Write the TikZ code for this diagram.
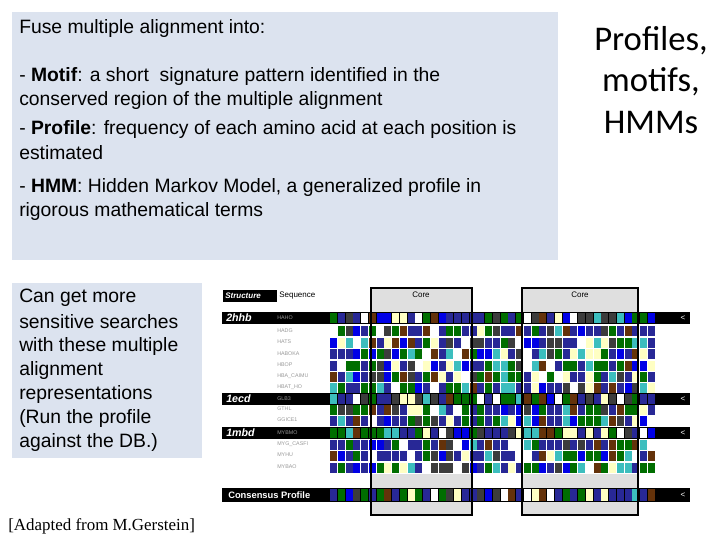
\documentclass[tikz,border=0pt]{standalone}
\usepackage{fontspec}
\setmainfont{Liberation Sans}
\newfontfamily\titlefont{Carlito}
\newfontfamily\seriffont{Liberation Serif}
\definecolor{panel}{RGB}{220,227,239}
\definecolor{c1}{RGB}{0,110,0}
\definecolor{c2}{RGB}{40,40,150}
\definecolor{c3}{RGB}{255,255,255}
\definecolor{c4}{RGB}{255,255,195}
\definecolor{c5}{RGB}{60,190,190}
\definecolor{c6}{RGB}{100,50,10}
\definecolor{c7}{RGB}{60,60,60}
\definecolor{c8}{RGB}{0,0,230}
\definecolor{c9}{RGB}{0,110,0}
\definecolor{c10}{RGB}{40,40,150}
\definecolor{c11}{RGB}{40,40,150}
\tikzset{
  bodytext/.style={anchor=west, font=\fontsize{14.5}{17}\selectfont, align=left, inner sep=0pt},
  band/.style={fill=black, draw=none},
  seqname/.style={anchor=west, font=\fontsize{4}{4}\selectfont, text=gray!80, inner sep=0pt},
  pdbname/.style={anchor=west, font=\fontsize{8}{8}\selectfont\bfseries\itshape, text=white, inner sep=0pt},
}
\begin{document}
\begin{tikzpicture}[x=0.75pt,y=-0.75pt]
    \useasboundingbox[fill=white] (0,0) rectangle (720,540);

    % text panel
    \path[fill=panel] (12,12) rectangle (558,260);
    \node[bodytext] (fuse) at (19,28) {Fuse multiple alignment into:};
    \node[bodytext] (motif) at (19,76) {- \textbf{Motif}: a short\ \ signature pattern identified in the};
    \node[bodytext] (motif2) at (19,100) {conserved region of the multiple alignment};
    \node[bodytext] (prof) at (19,129) {- \textbf{Profile}: frequency of each amino acid at each position is};
    \node[bodytext] (prof2) at (19,153) {estimated};
    \node[bodytext] (hmm) at (19,187) {- \textbf{HMM}: Hidden Markov Model, a generalized profile in};
    \node[bodytext] (hmm2) at (19,211) {rigorous mathematical terms};

    % title
    \node[font=\titlefont\fontsize{26}{31}\selectfont, align=center] (title) at (651,80)
        {Profiles,\\motifs,\\HMMs};

    % second panel
    \path[fill=panel] (12,283) rectangle (202,458);
    \foreach \t [count=\i] in {Can get more, sensitive searches, with these multiple,
        alignment, representations, {(Run the profile}, {against the DB.)}}
        \node[bodytext] (side\i) at (19,{274+24*\i}) {\t};

    \node[anchor=west, inner sep=0pt, font=\seriffont\fontsize{12.7}{14}\selectfont] (src) at (8,526)
        {[Adapted from M.Gerstein]};

    %% alignment figure
    \path[fill=gray!25] (371,288) rectangle (472,312);
    \path[fill=gray!25] (522,288) rectangle (638,312);
    \path[fill=gray!25] (371,474) rectangle (472,515);
    \path[fill=gray!25] (522,474) rectangle (638,515);
    \path[band] (223,290) rectangle (277,302);
    \node[anchor=west, inner sep=0pt, text=white, font=\fontsize{6}{6}\selectfont\bfseries\itshape] (st) at (225,296) {Structure};
    \node[anchor=west, inner sep=0pt, font=\fontsize{6}{6}\selectfont] (sq) at (279,296) {Sequence};
    \node[font=\fontsize{6}{6}\selectfont] (core1) at (421,295) {Core};
    \node[font=\fontsize{6}{6}\selectfont] (core2) at (580,295) {Core};

    % header bands
    \foreach \y in {312,393,427,488}
        \path[band] (222,\y) rectangle (690,{\y+11.5+(\y==488)*2.5});

    % cells
    \pgfmathsetseed{11}
    \foreach \y in {312,325,337,348,360,371,382,393,404,415,427,439,450,462,488}{
        \foreach \k in {0,...,41}{
            \pgfmathrandominteger{\c}{1}{11}
            \path[fill=c\c] ({330+7.75*\k},{\y+0.8}) rectangle ({330+7.75*(\k+1)-0.6},{\y+10.7+(\y==488)*2.5});
        }
    }

    \node[pdbname] (p1) at (226,318) {2hhb};
    \node[pdbname] (p2) at (226,399) {1ecd};
    \node[pdbname] (p3) at (226,433) {1mbd};
    \node[anchor=west, inner sep=0pt, text=white, font=\fontsize{7}{7}\selectfont\bfseries] (cons) at (228,495) {Consensus Profile};
    \foreach \y in {318,399,433,495}
        \node[text=white, font=\fontsize{6}{6}\selectfont] at (683,\y) {<};
    \foreach \n/\y in {HAHO/318,HADG/331,HATS/342,HABOKA/354,HBOP/365,HBA\_CAIMU/376,HBAT\_HO/387,
        GLB3/399,GTHL/409,GGICE1/420,MYBMO/433,MYG\_CASFI/444,MYHU/455,MYBAO/467}
        \node[seqname] at (277,\y) {\n};

    % core frames
    \draw[thick] (371,288) rectangle (472,515);
    \draw[thick] (522,288) rectangle (638,515);
\end{tikzpicture}
\end{document}
